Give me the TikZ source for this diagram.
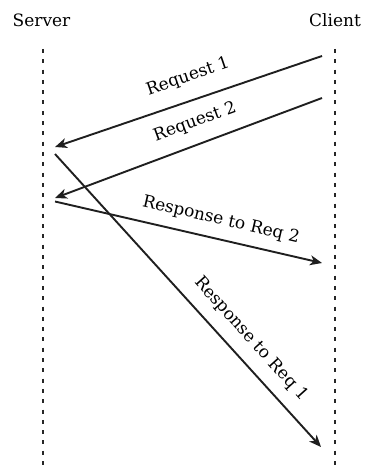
\documentclass[tikz,border=0pt]{standalone}
\usepackage{fontspec}
\setmainfont{DejaVu Serif}
\usetikzlibrary{arrows.meta}
\begin{document}
\begin{tikzpicture}[x=1pt,y=-1pt,
 lbl/.style={font=\fontsize{17}{20}\selectfont, inner sep=0pt, text=black},
 life/.style={line width=2.3pt, dash pattern=on 4pt off 6.3pt, draw=black!85},
 msg/.style={line width=1.9pt, draw=black!88, -{Stealth[length=12pt,width=10pt,inset=3.5pt]}}]
\useasboundingbox (0,0) rectangle (364,470);
\node[lbl, anchor=base] (server) at (41.5,27) {Server};
\node[lbl, anchor=base] (client) at (335,27) {Client};
\coordinate (sTop) at (43.3,49); \coordinate (sBot) at (43.3,470);
\coordinate (cTop) at (335,49); \coordinate (cBot) at (335,470);
\draw[life] (sTop) -- (sBot);
\draw[life] (cTop) -- (cBot);
\coordinate (q1a) at (322,56); \coordinate (q1b) at (55,147);
\coordinate (q2a) at (322,98); \coordinate (q2b) at (55,198);
\coordinate (p2a) at (55,201.5); \coordinate (p2b) at (322,263);
\coordinate (p1a) at (55,154); \coordinate (p1b) at (321,447);
\draw[msg] (q1a) -- (q1b);
\draw[msg] (q2a) -- (q2b);
\draw[msg] (p2a) -- (p2b);
\draw[msg] (p1a) -- (p1b);
\node[lbl, rotate=19] (l1) at (188,77) {Request 1};
\node[lbl, rotate=20] (l2) at (195,122) {Request 2};
\node[lbl, rotate=-13] (l3) at (221,220) {Response to Req 2};
\node[lbl, rotate=-48] (l4) at (251,339) {Response to Req 1};
\end{tikzpicture}
\end{document}
